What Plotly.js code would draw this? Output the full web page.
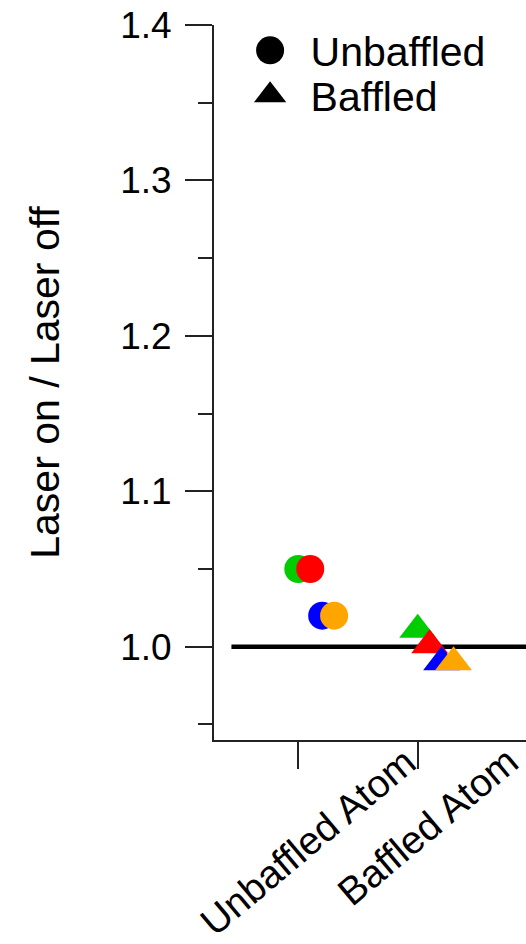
<!DOCTYPE html>
<html>
<head>
<meta charset="utf-8">
<script src="https://cdn.plot.ly/plotly-3.0.1.min.js"></script>
<style>
  html, body { margin: 0; padding: 0; background: #fff; }
  #chart { width: 526px; height: 944px; }
</style>
</head>
<body>
<div id="chart"></div>
<script>
// ---- data ----
const categories = ['Unbaffled Atom', 'Baffled Atom'];
const seriesColors = ['#00cc00', '#ff0000', '#0000ff', '#ffa500'];
const seriesOffsets = [0, 0.1, 0.2, 0.3];
const greenValues  = [1.050, 1.011];
const redValues    = [1.050, 1.001];
const blueValues   = [1.020, 0.990];
const orangeValues = [1.020, 0.990];
const seriesValues = [greenValues, redValues, blueValues, orangeValues];
const groupSymbols = ['circle', 'triangle-up'];
const legendNames = ['Unbaffled', 'Baffled'];
const referenceY = 1.0;
const yTickVals = [1.0, 1.1, 1.2, 1.3, 1.4];

// ---- traces ----
const traces = [];
traces.push({
  x: [-0.56, 1.95], y: [referenceY, referenceY],
  mode: 'lines', line: {color: '#000', width: 4.5},
  showlegend: false, hoverinfo: 'skip'
});
seriesValues.forEach((vals, i) => {
  traces.push({
    x: categories.map((c, k) => k + seriesOffsets[i]),
    y: vals,
    mode: 'markers',
    marker: {color: seriesColors[i], opacity: 1,
             size: groupSymbols.map(s => s === 'circle' ? 28 : 32),
             symbol: groupSymbols, line: {width: 0}},
    showlegend: false, cliponaxis: false
  });
});
legendNames.forEach((n, i) => {
  traces.push({
    x: [null], y: [null], name: n, mode: 'markers',
    marker: {color: '#000', size: 16, symbol: groupSymbols[i]},
    showlegend: true
  });
});

const axisColor = '#222';
const layout = {
  width: 526, height: 944,
  margin: {l: 214, r: 0, t: 25, b: 204},
  paper_bgcolor: '#fff', plot_bgcolor: '#fff',
  font: {family: 'Liberation Sans, Arial, sans-serif', color: '#000'},
  showlegend: true,
  legend: {
    x: 0.05, y: 1.011, xanchor: 'left', yanchor: 'top',
    font: {size: 41, color: '#000'},
    bgcolor: 'rgba(0,0,0,0)', itemwidth: 71, tracegroupgap: 0
  },
  xaxis: {
    range: [-0.706, 1.907],
    tickvals: [0, 1], ticktext: categories, showticklabels: false,
    ticks: 'outside', ticklen: 27, tickwidth: 2, tickcolor: axisColor,
    showline: true, linecolor: axisColor, linewidth: 2,
    showgrid: false, zeroline: false, fixedrange: true
  },
  yaxis: {
    range: [0.94, 1.4],
    tickvals: yTickVals, tickformat: '.1f',
    ticks: 'outside', ticklen: 27, tickwidth: 2, tickcolor: axisColor,
    minor: {dtick: 0.05, tick0: 0, ticks: 'outside', ticklen: 14, tickwidth: 2, tickcolor: axisColor, showgrid: false},
    tickfont: {size: 37, color: '#000'},
    ticklabelstandoff: 6,
    showline: true, linecolor: axisColor, linewidth: 2,
    showgrid: false, zeroline: false,
    title: {text: 'Laser on / Laser off', font: {size: 41, color: '#000'}, standoff: 48},
    automargin: false
  },
  annotations: categories.map((c, k) => ({
    x: k, xref: 'x', y: 0, yref: 'paper',
    text: c, showarrow: false, textangle: -40,
    xanchor: 'center', yanchor: 'top', xshift: 10, yshift: 3,
    font: {size: 39, color: '#000'}
  }))
};

Plotly.newPlot('chart', traces, layout, {staticPlot: true, displayModeBar: false}).then(() => {
  document.querySelectorAll('.legend .legendpoints path.scatterpts').forEach(p => {
    const t = p.getAttribute('transform') || '';
    p.setAttribute('transform', t + ' scale(1.75)');
  });
  const items = document.querySelectorAll('.legend g.traces');
  if (items.length === 2) {
    const m = /translate\(\s*([-\d.]+)[ ,]+([-\d.]+)\s*\)/.exec(items[0].getAttribute('transform') || '');
    if (m) {
      const x0 = parseFloat(m[1]), y0 = parseFloat(m[2]);
      items[1].setAttribute('transform', 'translate(' + x0 + ',' + (y0 + 45) + ')');
    }
  }
});
</script>
</body>
</html>
